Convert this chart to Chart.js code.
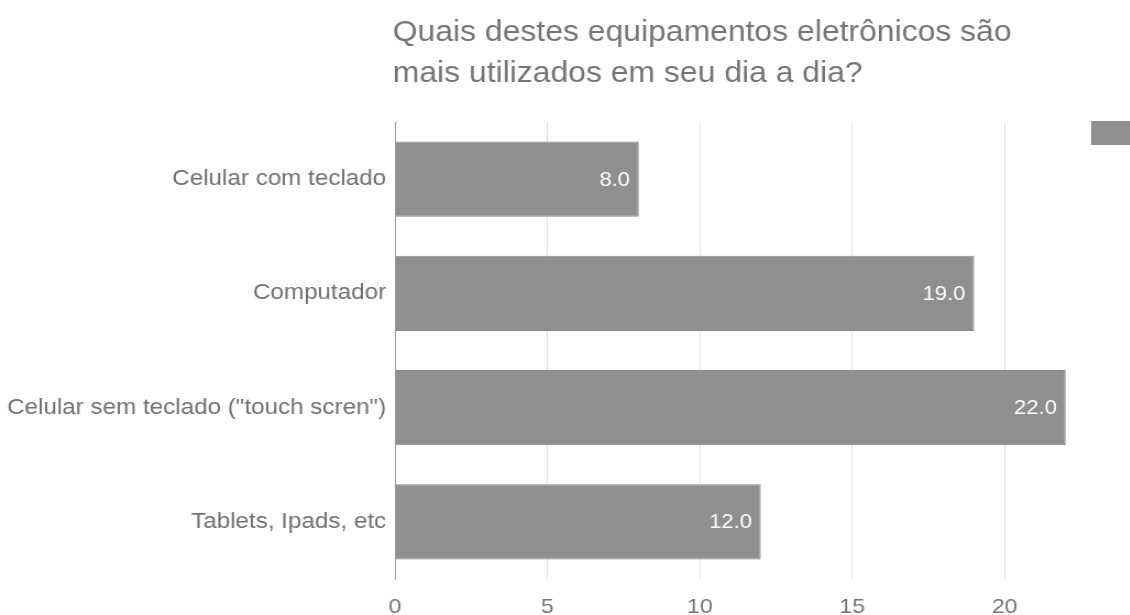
<!DOCTYPE html>
<html>
<head>
<meta charset="utf-8">
<script src="https://cdn.jsdelivr.net/npm/chart.js@4/dist/chart.umd.min.js"></script>
<style>
  html, body { margin: 0; padding: 0; background: #fff; overflow: hidden; }
  /* a imagem original esta esticada na horizontal */
  #wrap { width: 1027px; height: 615px; position: relative; transform: scaleX(1.1); transform-origin: 0 0; }
</style>
</head>
<body>
<div id="wrap"><canvas id="mycanvas"></canvas></div>
<script>
var categorias = ['Celular com teclado', 'Computador', 'Celular sem teclado ("touch scren")', 'Tablets, Ipads, etc'];
var valores = [8, 19, 22, 12];
var marcas = [0, 5, 10, 15, 20];
var titulo = ['Quais destes equipamentos eletrônicos são', 'mais utilizados em seu dia a dia?'];

var cinza = '#8f8f8f';
var fonte = '"Liberation Sans", Arial, sans-serif';

// titulo, rotulos dos valores e o quadrado da legenda
var extras = {
  id: 'extras',
  afterDraw: function(chart) {
    var ctx = chart.ctx;
    var area = chart.chartArea;
    ctx.save();
    ctx.fillStyle = '#757575';
    ctx.font = '29px ' + fonte;
    ctx.textAlign = 'left';
    ctx.textBaseline = 'alphabetic';
    ctx.fillText(titulo[0], area.left - 2, 41);
    ctx.fillText(titulo[1], area.left - 2, 82);

    var meta = chart.getDatasetMeta(0);
    ctx.fillStyle = '#ffffff';
    ctx.font = '20px ' + fonte;
    ctx.textAlign = 'right';
    ctx.textBaseline = 'middle';
    meta.data.forEach(function(bar, i) {
      ctx.fillText(valores[i].toFixed(1), bar.x - 8, bar.y + 1);
    });

    ctx.fillStyle = cinza;
    ctx.fillRect(chart.width - 35, area.top - 1, 35, 24);
    ctx.restore();
  }
};

var chart = new Chart(document.getElementById('mycanvas'), {
  type: 'bar',
  data: {
    labels: categorias,
    datasets: [{
      label: '',
      data: valores,
      backgroundColor: cinza,
      borderColor: '#888888',
      borderWidth: 1,
      categoryPercentage: 1,
      barPercentage: 0.66
    }]
  },
  options: {
    indexAxis: 'y',
    responsive: true,
    maintainAspectRatio: false,
    animation: false,
    layout: { padding: { top: 122, left: 0, right: 0, bottom: 0 } },
    plugins: {
      legend: { display: false },
      title: { display: false },
      tooltip: { enabled: false }
    },
    scales: {
      x: {
        min: 0,
        max: 24.1,
        afterBuildTicks: function(scale) {
          scale.ticks = marcas.map(function(v) { return { value: v }; });
        },
        afterFit: function(scale) { scale.height = 36; },
        border: { display: false },
        grid: { color: '#e0e0e0', drawTicks: false, lineWidth: 1 },
        ticks: {
          color: '#757575',
          padding: 16,
          font: { family: fonte, size: 21 },
          maxRotation: 0
        }
      },
      y: {
        afterFit: function(scale) { scale.width = 359; },
        border: { display: true, color: '#9e9e9e', width: 1 },
        grid: { display: false },
        ticks: {
          color: '#707070',
          padding: 0,
          font: { family: fonte, size: 22 }
        }
      }
    }
  },
  plugins: [extras]
});
</script>
</body>
</html>
